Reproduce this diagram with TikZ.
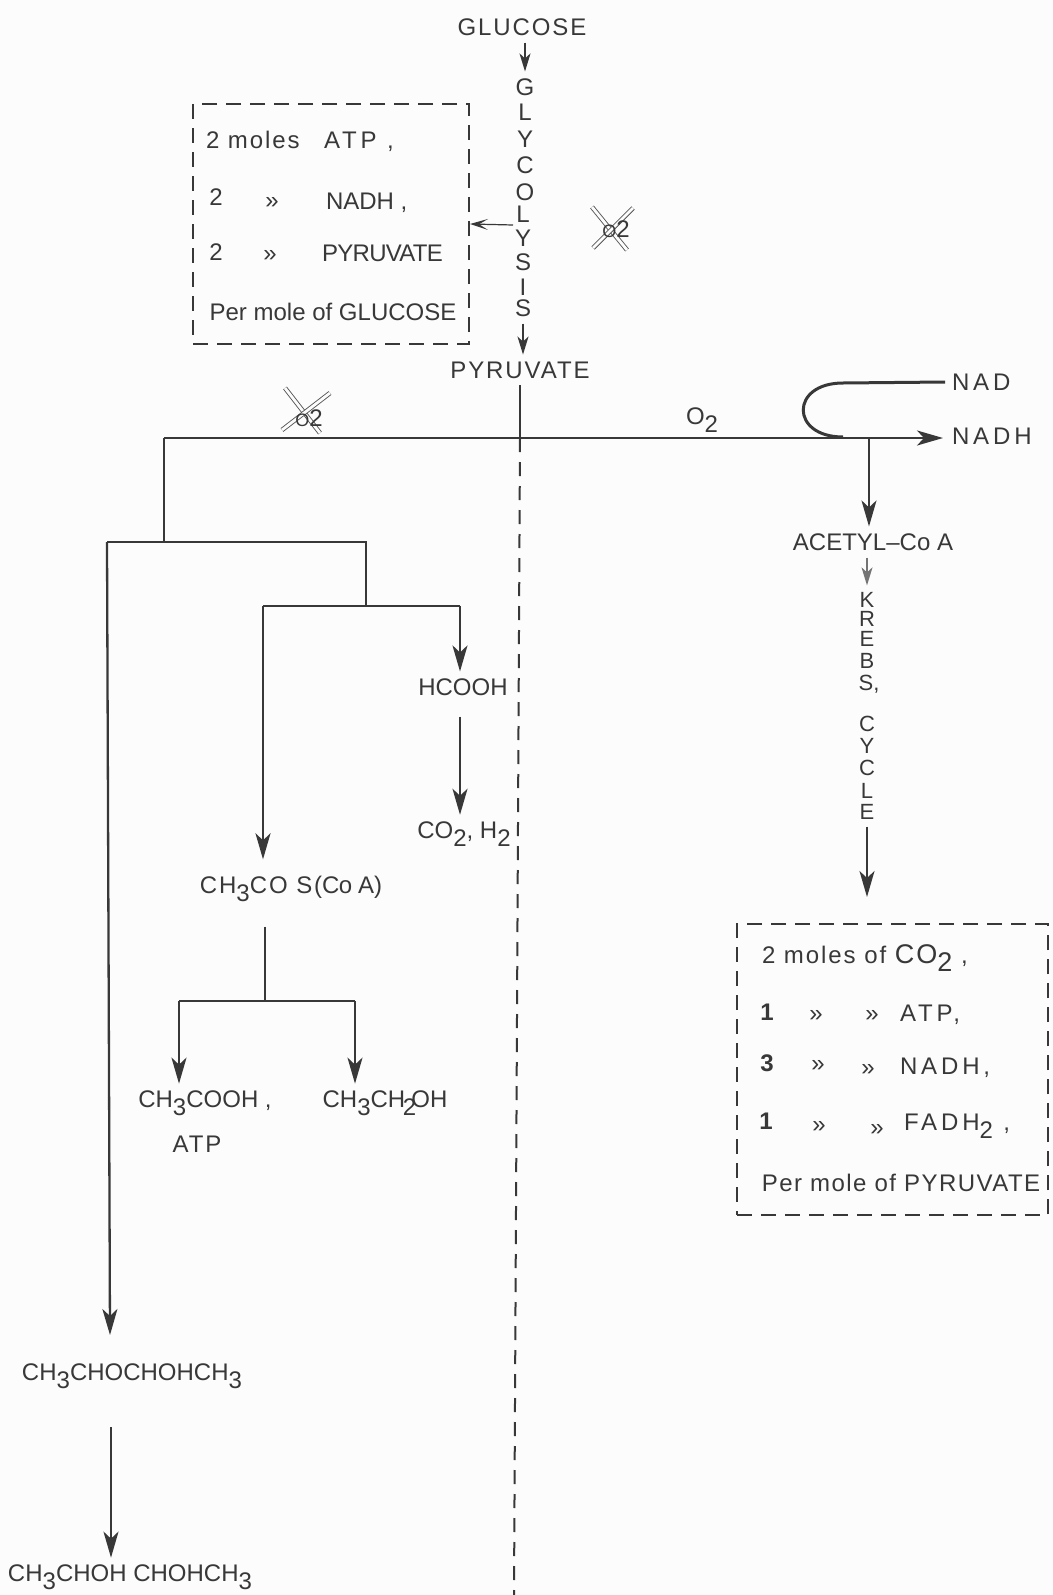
\documentclass[tikz,border=0pt]{standalone}
\usepackage{fontspec}
\usepackage{tikz}
\usetikzlibrary{arrows.meta, positioning, calc}
\setmainfont{Liberation Sans}
\newfontfamily\spacedfont[LetterSpace=8]{Liberation Sans}
\newfontfamily\widerfont[LetterSpace=16]{Liberation Sans}
\newfontfamily\tightfont[LetterSpace=-3]{Liberation Sans}
\definecolor{inkgray}{gray}{0.22}
\definecolor{papergray}{gray}{0.99}
\newcommand{\lowdig}[1]{\raisebox{-.6ex}{#1}}
\tikzset{
    chem/.style={text=inkgray, font=\fontsize{12}{14}\selectfont},
    wide/.style={text=inkgray, font=\fontsize{12}{14}\selectfont\spacedfont},
    wider/.style={text=inkgray, font=\fontsize{12}{14}\selectfont\widerfont},
    tight/.style={text=inkgray, font=\fontsize{12}{14}\selectfont\tightfont},
    letter/.style={text=inkgray, font=\fontsize{11}{13}\selectfont},
    pipe/.style={draw=inkgray, line width=1.15pt},
    flow/.style={pipe, -{Stealth[length=13pt,width=7.5pt,inset=3.5pt]}},
    smallflow/.style={draw=inkgray, line width=.8pt, -{Stealth[length=9pt,width=5.5pt,inset=2.5pt]}},
    dashbox/.style={draw=inkgray, line width=1pt, dash pattern=on 7.5pt off 4.5pt, minimum width=#1},
    dashline/.style={draw=inkgray, line width=1pt, dash pattern=on 7pt off 5pt},
    strike/.style={draw=inkgray!85, line width=.45pt, double=papergray, double distance=1.4pt}
}

\begin{document}
\begin{tikzpicture}[x=0.5pt, y=-0.5pt]
    \useasboundingbox (0,0) rectangle (1053,1595);
    \fill[papergray] (0,0) rectangle (1053,1595);

    % Top: glycolysis
    \node[wide] (glucose) at (522, 27) {GLUCOSE};
    \node[chem] (glyG) at (525, 87) {G};
    \node[chem] (glyL) at (525, 112) {L};
    \node[chem] (glyY) at (525, 139) {Y};
    \node[chem] (glyC) at (525, 165) {C};
    \node[chem] (glyO) at (525, 192) {O};
    \node[chem] (glyLb) at (523, 214) {L};
    \node[chem] (glyYb) at (523, 238) {Y};
    \node[chem] (glyS) at (523, 262) {S};
    \node[chem] (glyI) at (523, 287) {I};
    \node[chem] (glySb) at (523, 308) {S};
    \node[wide] (pyruvate) at (520, 370) {PYRUVATE};
    \draw[smallflow] (glucose.south -| glyG) -- (glyG.north);
    \draw[smallflow] (glySb.south) -- (pyruvate.north -| glySb);

    % Yield of glycolysis
    \node[dashbox=276*0.5pt, minimum height=120pt] (gainbox) at (331, 224) {};
    \node[wide, anchor=west] (gainA) at (199, 140) {2 moles};
    \node[wider, anchor=west] (gainAtp) at (317, 142) {ATP ,};
    \node[chem] (gainB) at (216, 197) {2};
    \node[chem] (gainBq) at (272, 203) {»};
    \node[chem, anchor=west] (gainNadh) at (319, 203) {NADH ,};
    \node[chem] (gainC) at (216, 252) {2};
    \node[chem] (gainCq) at (270, 256) {»};
    \node[tight, anchor=west] (gainPyr) at (315, 253) {PYRUVATE};
    \node[chem] (gainPer) at (333, 312) {Per mole of GLUCOSE};
    \coordinate (gainfrom) at (513, 225);
    \draw[draw=inkgray, line width=.6pt, -{Stealth[length=9pt,width=5.5pt,inset=4.5pt]}] (gainfrom) -- (gainbox.east);

    % Crossed oxygen
    \draw[strike] (592, 207) -- (627, 250);
    \draw[strike] (593, 248) -- (633, 208);
    \node[chem] (nooxA) at (616, 229) {{\small O}2};
    \draw[strike] (285, 388) -- (320, 433);
    \draw[strike] (282, 430) -- (330, 393);
    \node[chem] (nooxB) at (309, 418) {{\small O}2};

    % Main line
    \coordinate (pyrfoot) at (520, 438);
    \coordinate (leftend) at (164, 438);
    \coordinate (acetfoot) at (869, 438);
    \node[wider, anchor=west] (nad) at (945, 382) {NAD};
    \node[wider, anchor=west] (nadh) at (945, 436) {NADH};
    \node[chem] (oxygen) at (702, 420) {O\lowdig{2}};
    \draw[pipe] (pyruvate.south) -- (pyrfoot);
    \draw[flow, shorten >=1pt] (leftend) -- (nadh.west |- acetfoot);
    \draw[pipe, line width=1.5pt] (nad.west) -- (843, 383) .. controls (790, 383) and (790, 437) .. (843, 437);
    \coordinate (dashend) at (514, 1595);
    \draw[dashline] (pyrfoot) -- (dashend);

    % Right: Krebs cycle
    \node[chem] (acetyl) at (873, 542) {ACETYL–Co A};
    \node[letter] (krK) at (867, 600) {K};
    \node[letter] (krR) at (867, 619) {R};
    \node[letter] (krE) at (867, 639) {E};
    \node[letter] (krB) at (867, 661) {B};
    \node[letter] (krS) at (869, 684) {S,};
    \node[letter] (krC) at (867, 724) {C};
    \node[letter] (krY) at (867, 746) {Y};
    \node[letter] (krCb) at (867, 768) {C};
    \node[letter] (krL) at (867, 791) {L};
    \node[letter] (krEb) at (867, 812) {E};
    \coordinate (cycletip) at (867, 897);
    \draw[flow] (acetfoot) -- (acetfoot |- acetyl.north);
    \draw[draw=inkgray!70, line width=.7pt, -{Stealth[length=9pt,width=5.5pt,inset=2.5pt]}] (acetyl.south -| krK) -- (krK.north);
    \draw[flow] (krEb.south) -- (cycletip);

    % Yield of the cycle
    \node[dashbox=311*0.5pt, minimum height=145.5pt] (cyclebox) at (892.5, 1069.5) {};
    \node[wide, anchor=west] (cycleA) at (755, 958) {2 moles of {\fontsize{13.5}{14}\selectfont CO\lowdig{2}} ,};
    \node[chem] (cycleB) at (767, 1012) {\textbf{1}};
    \node[chem] (cycleBq) at (816, 1016) {»};
    \node[chem] (cycleBr) at (872, 1016) {»};
    \node[wider, anchor=west] (cycleAtp) at (893, 1015) {ATP,};
    \node[chem] (cycleC) at (767, 1063) {\textbf{3}};
    \node[chem] (cycleCq) at (818, 1066) {»};
    \node[chem] (cycleCr) at (868, 1070) {»};
    \node[wider, anchor=west] (cycleNadh) at (893, 1068) {NADH,};
    \node[chem] (cycleD) at (766, 1121) {\textbf{1}};
    \node[chem] (cycleDq) at (819, 1127) {»};
    \node[chem] (cycleDr) at (877, 1130) {»};
    \node[wider, anchor=west] (cycleFadh) at (897, 1126) {FADH\lowdig{2} ,};
    \node[wide] (cyclePer) at (901, 1183) {\addfontfeature{LetterSpace=6}Per mole of PYRUVATE};

    % Left: fermentation tree
    \coordinate (treetop) at (164, 542);
    \coordinate (treeleft) at (107, 542);
    \coordinate (treeright) at (366, 542);
    \coordinate (forkmid) at (366, 606);
    \coordinate (forkleft) at (263, 606);
    \coordinate (forkright) at (460, 606);
    \draw[pipe] (leftend) -- (treetop);
    \draw[pipe] (treeleft) -- (treeright) -- (forkmid);
    \draw[pipe] (forkleft) -- (forkright);

    % Formate
    \node[chem] (hcooh) at (463, 687) {HCOOH};
    \node[chem] (coh) at (464, 834) {CO\lowdig{2}, H\lowdig{2}};
    \draw[flow] (forkright) -- (forkright |- hcooh.north);
    \draw[flow, shorten <=7pt] (hcooh.south -| forkright) -- (coh.north -| forkright);

    % Acetyl branch
    \node[wide] (acylco) at (291, 889) {CH\lowdig{3}CO S({\tightfont Co A})};
    \coordinate (acylfoot) at (265, 1001);
    \coordinate (acidfork) at (179, 1001);
    \coordinate (alcfork) at (355, 1001);
    \node[chem] (acid) at (205, 1103) {CH\lowdig{3}COOH ,};
    \node[wide] (atp) at (197, 1144) {ATP};
    \node[chem] (ethanol) at (385, 1103) {CH\lowdig{3}CH\kern-.1em\lowdig{2}\kern-.2em OH};
    \draw[flow, shorten >=5pt] (forkleft) -- (forkleft |- acylco.north);
    \draw[pipe, shorten <=9pt] (acylco.south -| acylfoot) -- (acylfoot);
    \draw[pipe] (acidfork) -- (alcfork);
    \draw[flow] (acidfork) -- (acidfork |- acid.north);
    \draw[flow] (alcfork) -- (alcfork |- ethanol.north);

    % Butanediol
    \coordinate (acetoinin) at (110, 1335);
    \node[chem] (acetoin) at (132, 1376) {CH\lowdig{3}CHOCHOHCH\lowdig{3}};
    \node[chem] (butanediol) at (130, 1577) {CH\lowdig{3}CHOH CHOHCH\lowdig{3}};
    \draw[flow] (treeleft) -- (acetoinin);
    \draw[flow, shorten <=16pt] (acetoin.south -| 111, 0) -- (butanediol.north -| 111, 0);
\end{tikzpicture}
\end{document}
